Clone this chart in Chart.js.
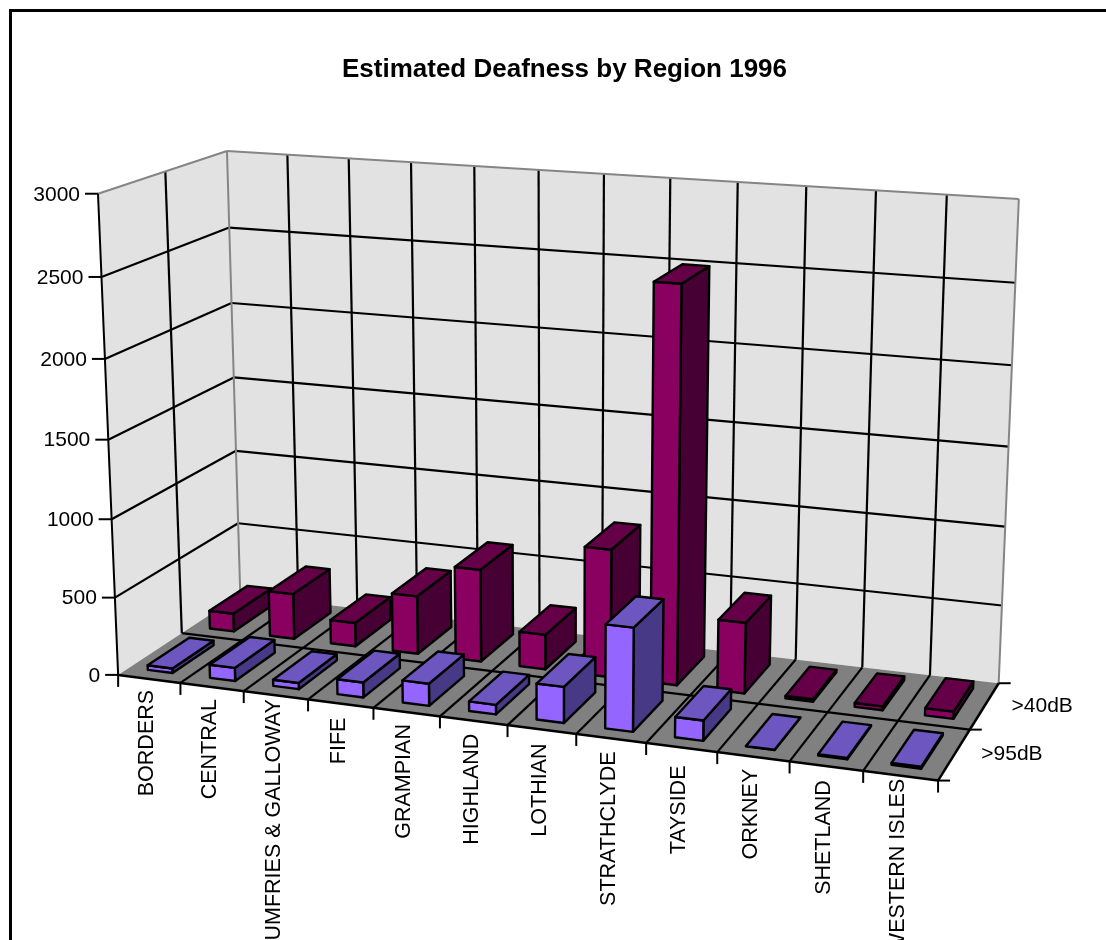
<!DOCTYPE html>
<html>
<head>
<meta charset="utf-8">
<title>Estimated Deafness by Region 1996</title>
<script src="https://cdn.jsdelivr.net/npm/chart.js@4/dist/chart.umd.min.js"></script>
<style>
  html, body { margin: 0; padding: 0; background: #fff; }
  #page { position: relative; width: 1106px; height: 940px; overflow: hidden; }
  #frame { position: absolute; left: 9px; top: 9px; width: 1200px; height: 1100px;
           border-left: 3px solid #000; border-top: 3px solid #000; }
  canvas { position: absolute; left: 0; top: 0; }
</style>
</head>
<body>
<div id="page">
  <div id="frame"></div>
  <canvas id="chart" width="1106" height="940"></canvas>
</div>
<script>
const regions = ["BORDERS", "CENTRAL", "DUMFRIES & GALLOWAY", "FIFE", "GRAMPIAN", "HIGHLAND",
                 "LOTHIAN", "STRATHCLYDE", "TAYSIDE", "ORKNEY", "SHETLAND", "WESTERN ISLES"];
const severe = [30, 85, 40, 95, 140, 60, 225, 640, 125, 1, 8, 12];
const moderate = [120, 300, 155, 380, 600, 225, 820, 2500, 450, 16, 24, 45];
const titleText = "Estimated Deafness by Region 1996";
// Extra drop of each rotated region name below the axis, in pixels.
const labelDrop = [0, 1, -7, 3, 1, 2, 3, 2, 7, 1, 3, -8];

// Camera fit: cube coordinates (across, height, depth) paired with where they land on the canvas.
const cameraAnchors = [
  [0, 0, 0, 118, 675], [1, 0, 0, 937, 779], [0, 1, 0, 98, 194], [0, 5 / 6, 0, 102, 277],
  [0, 1 / 6, 0, 115, 597], [0, 0, 0.5, 182, 631], [1, 0, 0.5, 973, 728],
  [0.5, 0, 0, 506, 729], [0, 1, 0.5, 166, 171], [1, 0, 1, 998, 683],
  [0, 1, 1, 226, 151], [0, 5 / 6, 1, 229, 227], [0, 4 / 6, 1, 232, 303], [0, 3 / 6, 1, 234, 377],
  [0, 2 / 6, 1, 236, 452], [0, 1 / 6, 1, 238, 524],
  [1, 1, 1, 1019, 198], [1, 5 / 6, 1, 1015, 283], [1, 4 / 6, 1, 1012, 366], [1, 3 / 6, 1, 1008, 448],
  [1, 2 / 6, 1, 1005, 527], [1, 1 / 6, 1, 1002, 605]
];

function solveLinear(A, b) {
  const n = b.length;
  const M = A.map((row, i) => row.concat(b[i]));
  for (let c = 0; c < n; c++) {
    let best = c;
    for (let r = c + 1; r < n; r++) if (Math.abs(M[r][c]) > Math.abs(M[best][c])) best = r;
    [M[c], M[best]] = [M[best], M[c]];
    for (let r = 0; r < n; r++) {
      if (r === c) continue;
      const f = M[r][c] / M[c][c];
      for (let k = c; k <= n; k++) M[r][k] -= f * M[c][k];
    }
  }
  return M.map((row, i) => row[n] / row[i]);
}

function fitCamera(anchors) {
  const rows = [], rhs = [];
  for (const [X, Y, Z, px, py] of anchors) {
    const u = px / 1000, v = py / 1000;
    rows.push([X, Y, Z, 1, 0, 0, 0, 0, -u * X, -u * Y, -u * Z]); rhs.push(u);
    rows.push([0, 0, 0, 0, X, Y, Z, 1, -v * X, -v * Y, -v * Z]); rhs.push(v);
  }
  const n = 11;
  const AtA = Array.from({ length: n }, () => new Array(n).fill(0));
  const Atb = new Array(n).fill(0);
  rows.forEach((row, r) => {
    for (let i = 0; i < n; i++) {
      Atb[i] += row[i] * rhs[r];
      for (let j = 0; j < n; j++) AtA[i][j] += row[i] * row[j];
    }
  });
  return solveLinear(AtA, Atb);
}

const cam = fitCamera(cameraAnchors);
function project(X, Y, Z) {
  const w = cam[8] * X + cam[9] * Y + cam[10] * Z + 1;
  return [1000 * (cam[0] * X + cam[1] * Y + cam[2] * Z + cam[3]) / w,
          1000 * (cam[4] * X + cam[5] * Y + cam[6] * Z + cam[7]) / w];
}

function poly(ctx, pts, fill, stroke, width) {
  ctx.beginPath();
  pts.forEach((p, i) => { const q = project(...p); i ? ctx.lineTo(q[0], q[1]) : ctx.moveTo(q[0], q[1]); });
  ctx.closePath();
  if (fill) { ctx.fillStyle = fill; ctx.fill(); }
  if (stroke) { ctx.strokeStyle = stroke; ctx.lineWidth = width; ctx.stroke(); }
}

function line(ctx, a, b, color, width) {
  const p = project(...a), q = project(...b);
  ctx.beginPath();
  ctx.moveTo(p[0], p[1]);
  ctx.lineTo(q[0], q[1]);
  ctx.strokeStyle = color;
  ctx.lineWidth = width;
  ctx.stroke();
}

const WALL = "#e2e2e2", FLOOR = "#808080", EDGE = "#858585", INK = "#000";
const GRID_WIDTH = 2.2;
const AXIS_FONT = '21px "Liberation Sans", Arial, sans-serif';
const NAME_FONT = '21.5px "Liberation Sans", Arial, sans-serif';
const faces = [
  { front: "#9566ff", top: "#6e56c0", side: "#473985" },
  { front: "#8a0060", top: "#650048", side: "#470033" }
];
const DEPTH_GAP = 0.17;

const perspectiveBars = {
  id: "perspectiveBars",
  beforeDatasetsDraw(chart) {
    const ctx = chart.ctx;
    const xs = chart.scales.x, ys = chart.scales.y;
    const cols = chart.data.labels.length;
    const rows = chart.data.datasets.length;
    const yFrac = px => (ys.bottom - px) / (ys.bottom - ys.top);
    const xFrac = px => (px - xs.left) / (xs.right - xs.left);
    ctx.save();
    ctx.lineJoin = "round";
    ctx.lineCap = "butt";

    // Walls and floor
    poly(ctx, [[0, 0, 1], [1, 0, 1], [1, 1, 1], [0, 1, 1]], WALL);
    poly(ctx, [[0, 0, 0], [0, 0, 1], [0, 1, 1], [0, 1, 0]], WALL);
    poly(ctx, [[0, 0, 0], [1, 0, 0], [1, 0, 1], [0, 0, 1]], FLOOR);

    // Value gridlines along both walls
    ys.ticks.forEach(t => {
      const h = yFrac(ys.getPixelForValue(t.value));
      if (h <= 0 || h >= 1) return;
      line(ctx, [0, h, 0], [0, h, 1], INK, GRID_WIDTH);
      line(ctx, [0, h, 1], [1, h, 1], INK, GRID_WIDTH);
    });
    // Category gridlines up the back wall and across the floor
    for (let i = 1; i < cols; i++) {
      line(ctx, [i / cols, 0, 1], [i / cols, 1, 1], INK, GRID_WIDTH);
      line(ctx, [i / cols, 0, 0], [i / cols, 0, 1], INK, GRID_WIDTH);
    }
    // Series gridlines up the side wall and across the floor
    for (let j = 1; j < rows; j++) {
      line(ctx, [0, 0, j / rows], [0, 1, j / rows], INK, GRID_WIDTH);
      line(ctx, [0, 0, j / rows], [1, 0, j / rows], INK, GRID_WIDTH);
    }
    // Cage edges
    line(ctx, [0, 1, 0], [0, 1, 1], EDGE, 2);
    line(ctx, [0, 1, 1], [1, 1, 1], EDGE, 2);
    line(ctx, [0, 0, 1], [0, 1, 1], EDGE, 2);
    line(ctx, [1, 0, 1], [1, 1, 1], EDGE, 2);
    line(ctx, [0, 0, 0], [0, 1, 0], INK, 2);
    line(ctx, [0, 0, 0], [1, 0, 0], INK, 2.5);
    line(ctx, [1, 0, 0], [1, 0, 1], INK, 2.5);

    // Bars, farthest series first, left to right
    for (let d = rows - 1; d >= 0; d--) {
      const meta = chart.getDatasetMeta(d);
      const z0 = (d + DEPTH_GAP) / rows, z1 = (d + 1 - DEPTH_GAP) / rows;
      const c = faces[d];
      meta.data.forEach(bar => {
        const x0 = xFrac(bar.x - bar.width / 2), x1 = xFrac(bar.x + bar.width / 2);
        const h0 = yFrac(bar.base), h1 = yFrac(bar.y);
        poly(ctx, [[x1, h0, z0], [x1, h0, z1], [x1, h1, z1], [x1, h1, z0]], c.side, INK, 2.4);
        poly(ctx, [[x0, h0, z0], [x1, h0, z0], [x1, h1, z0], [x0, h1, z0]], c.front, INK, 2.4);
        poly(ctx, [[x0, h1, z0], [x1, h1, z0], [x1, h1, z1], [x0, h1, z1]], c.top, INK, 2.4);
      });
    }

    // Axis ticks and labels
    ctx.strokeStyle = INK;
    ctx.lineWidth = 2;
    ctx.fillStyle = "#000";
    ctx.font = AXIS_FONT;
    ctx.textAlign = "right";
    ctx.textBaseline = "middle";
    ys.ticks.forEach(t => {
      const p = project(0, yFrac(ys.getPixelForValue(t.value)), 0);
      ctx.beginPath(); ctx.moveTo(p[0] - 13, p[1]); ctx.lineTo(p[0], p[1]); ctx.stroke();
      ctx.fillText(t.label, p[0] - 18, p[1] + 1);
    });
    for (let i = 0; i <= cols; i++) {
      const p = project(i / cols, 0, 0);
      ctx.beginPath(); ctx.moveTo(p[0], p[1]); ctx.lineTo(p[0], p[1] + 12); ctx.stroke();
    }
    ctx.font = NAME_FONT;
    xs.ticks.forEach((t, i) => {
      const p = project(xFrac(xs.getPixelForValue(t.value)), 0, 0);
      ctx.save();
      ctx.translate(p[0] - 2, p[1] + 11 + labelDrop[i]);
      ctx.rotate(-Math.PI / 2);
      ctx.textAlign = "right";
      ctx.textBaseline = "middle";
      ctx.fillText(t.label, 0, 0);
      ctx.restore();
    });
    ctx.font = AXIS_FONT;
    for (let j = 0; j <= rows; j++) {
      const p = project(1, 0, j / rows);
      ctx.beginPath(); ctx.moveTo(p[0], p[1]); ctx.lineTo(p[0] + 12, p[1]); ctx.stroke();
    }
    ctx.textAlign = "left";
    chart.data.datasets.forEach((ds, j) => {
      const p = project(1, 0, (j + 0.5) / rows);
      ctx.fillText(ds.label, p[0] + 27, p[1]);
    });
    ctx.restore();
    return false;
  }
};

new Chart(document.getElementById("chart"), {
  type: "bar",
  data: {
    labels: regions,
    datasets: [
      { label: ">95dB", data: severe, backgroundColor: faces[0].front },
      { label: ">40dB", data: moderate, backgroundColor: faces[1].front }
    ]
  },
  plugins: [perspectiveBars],
  options: {
    responsive: false,
    animation: false,
    grouped: false,
    barPercentage: 0.4,
    categoryPercentage: 1,
    layout: { padding: { left: 23 } },
    plugins: {
      legend: { display: false },
      tooltip: { enabled: false },
      title: {
        display: true,
        text: titleText,
        color: "#000",
        font: { family: '"Liberation Sans", Arial, sans-serif', size: 26, weight: "bold" },
        padding: { top: 54, bottom: 10 }
      }
    },
    scales: {
      x: { display: false, type: "category", ticks: { autoSkip: false } },
      y: {
        display: false, min: 0, max: 3000,
        ticks: { stepSize: 500, callback: v => String(v) }
      }
    }
  }
});
</script>
</body>
</html>
